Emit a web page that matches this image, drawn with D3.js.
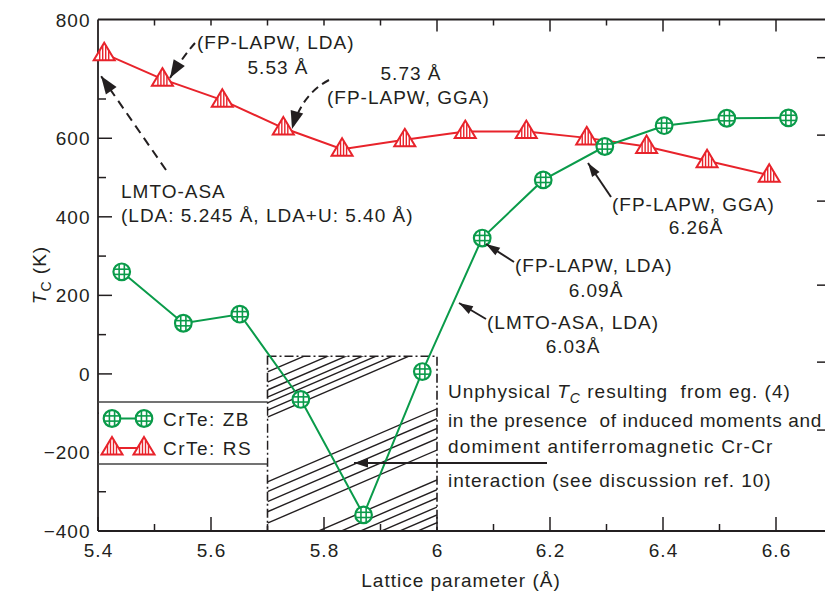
<!DOCTYPE html>
<html>
<head>
<meta charset="utf-8">
<script src="https://cdn.jsdelivr.net/npm/d3@7"></script>
<style>
  html, body { margin: 0; padding: 0; background: #fff; }
  svg text { font-family: "Liberation Sans", Arial, sans-serif; font-size: 19px; letter-spacing: 1px; fill: #231f20; }
</style>
</head>
<body>
<svg id="chart" width="825" height="596"></svg>
<script>
// ---------------- data ----------------
const zbLattice = [5.442, 5.551, 5.651, 5.759, 5.870, 5.974, 6.080, 6.188, 6.297, 6.402, 6.513, 6.622];
const zbTc      = [260, 129, 152, -65, -359, 6, 346, 494, 579, 632, 651, 652];
const rsLattice = [5.411, 5.514, 5.620, 5.728, 5.832, 5.943, 6.050, 6.158, 6.265, 6.371, 6.478, 6.588];
const rsTc      = [757, 725, 697, 626, 572, 596, 617, 617, 601, 579, 543, 506];
const xTickLabels = [5.4, 5.6, 5.8, 6.0, 6.2, 6.4, 6.6];
const xMinorTicks = [5.5, 5.7, 5.9, 6.1, 6.3, 6.5];
const yTickLabels = [-400, -200, 0, 200, 400, 600, 800];
const yMinorTicks = [-300, -100, 100, 300, 500, 700];
const topTicks = [5.5, 5.6, 5.7, 5.8, 5.9, 6.0, 6.1, 6.2, 6.3, 6.4, 6.5, 6.6];
const rightTicks = [752, 608, 440, 226, 30, -143];
const regionLattice = [5.7, 6.0];     // unphysical region
const regionTcTop = 45;
const hatchIntercepts = [5, -21, -41, -59, -74, -92, -110, -275, -300, -325, -351, -380, -456, -481, -502, -525, -545, -565];
const hatchSlope = 620; // K per Å
const legendLabels = ["CrTe: ZB", "CrTe: RS"];

// ---------------- setup ----------------
const GREEN = "#0a9b4a", RED = "#e8232b", INK = "#231f20";
const svg = d3.select("#chart");
const x = d3.scaleLinear().domain([5.4, 6.6]).range([98, 776]);
const y = d3.scaleLinear().domain([-400, 700, 800]).range([531, 99, 19.5]);
const pL = 98, pR = 825, pT = 19.5, pB = 531;

const defs = svg.append("defs");
defs.append("clipPath").attr("id", "hclip").append("rect")
  .attr("x", x(regionLattice[0])).attr("y", y(regionTcTop))
  .attr("width", x(regionLattice[1]) - x(regionLattice[0]))
  .attr("height", y(-400) - y(regionTcTop));
function mk(id, len, half) {
  defs.append("marker").attr("id", id)
    .attr("viewBox", `${-len - 2} ${-half - 2} ${len + 4} ${2 * half + 4}`)
    .attr("refX", 0).attr("refY", 0)
    .attr("markerUnits", "userSpaceOnUse")
    .attr("markerWidth", len + 4).attr("markerHeight", 2 * half + 4)
    .attr("orient", "auto")
    .append("path").attr("d", `M0,0 L${-len},${-half} L${-len},${half} Z`)
    .attr("fill", INK).attr("stroke", "none");
}
mk("headS", 14, 4.5);
mk("headB", 18, 6.5);

// ---------------- hatched region ----------------
const hatch = svg.append("g").attr("clip-path", "url(#hclip)");
hatch.selectAll("line").data(hatchIntercepts).join("line")
  .attr("x1", x(regionLattice[0])).attr("y1", d => y(d))
  .attr("x2", x(regionLattice[1])).attr("y2", d => y(d + hatchSlope * (regionLattice[1] - regionLattice[0])))
  .attr("stroke", INK).attr("stroke-width", 1.4);
svg.append("rect")
  .attr("x", x(regionLattice[0])).attr("y", y(regionTcTop))
  .attr("width", x(regionLattice[1]) - x(regionLattice[0]))
  .attr("height", y(-400) - y(regionTcTop))
  .attr("fill", "none").attr("stroke", INK).attr("stroke-width", 1.6)
  .attr("stroke-dasharray", "9,3,2,3");

// ---------------- frame & ticks ----------------
const frame = svg.append("g").attr("stroke", INK).attr("stroke-width", 1.8);
frame.append("line").attr("x1", pL).attr("x2", pL).attr("y1", pT).attr("y2", pB);
frame.append("line").attr("x1", pL).attr("x2", pR).attr("y1", pT).attr("y2", pT);
frame.append("line").attr("x1", pL).attr("x2", pR).attr("y1", pB).attr("y2", pB);

const tk = svg.append("g").attr("stroke", INK).attr("stroke-width", 1.5);
tk.selectAll(".bx").data(xTickLabels).join("line")
  .attr("x1", d => x(d)).attr("x2", d => x(d)).attr("y1", pB).attr("y2", pB - 14);
tk.selectAll(".bm").data(xMinorTicks).join("line")
  .attr("x1", d => x(d)).attr("x2", d => x(d)).attr("y1", pB).attr("y2", pB - 7);
tk.selectAll(".tt").data(topTicks).join("line")
  .attr("x1", d => x(d)).attr("x2", d => x(d)).attr("y1", pT)
  .attr("y2", d => pT + (d >= 5.99 && Math.round(d * 10) % 2 === 0 ? 12 : 6));
tk.selectAll(".ly").data(yTickLabels.filter(d => d < 800)).join("line")
  .attr("x1", pL).attr("x2", pL + 14).attr("y1", d => y(d)).attr("y2", d => y(d));
tk.selectAll(".lm").data(yMinorTicks).join("line")
  .attr("x1", pL).attr("x2", pL + 8).attr("y1", d => y(d)).attr("y2", d => y(d));
tk.selectAll(".rt").data(rightTicks).join("line")
  .attr("x1", pR - 8).attr("x2", pR).attr("y1", d => y(d)).attr("y2", d => y(d));

const fmtY = d => d < 0 ? "\u2212" + Math.abs(d) : String(d);
svg.selectAll(".ylab").data(yTickLabels).join("text")
  .attr("x", 90.5).attr("y", d => y(d) + 7).attr("text-anchor", "end").text(fmtY);
svg.selectAll(".xlab").data(xTickLabels).join("text")
  .attr("x", d => x(d) + 0.5).attr("y", 556.5).attr("text-anchor", "middle")
  .text(d => d === 6 ? "6" : d.toFixed(1));

svg.append("text").attr("x", 461).attr("y", 587).attr("text-anchor", "middle").text("Lattice parameter (Å)");
const yl = svg.append("text").attr("transform", "translate(46,275) rotate(-90)").attr("text-anchor", "middle");
yl.append("tspan").attr("font-style", "italic").text("T");
yl.append("tspan").style("font-size", "14px").attr("dy", 5).text("C");
yl.append("tspan").attr("dy", -5).text(" (K)");

// ---------------- markers ----------------
function circleMarker(g) {
  const r = 8.3, o = 2.6, c = Math.sqrt(r * r - o * o);
  g.append("circle").attr("r", r).attr("fill", "#fff").attr("stroke", GREEN).attr("stroke-width", 2.2);
  [-o, o].forEach(v => {
    g.append("line").attr("x1", v).attr("x2", v).attr("y1", -c).attr("y2", c).attr("stroke", GREEN).attr("stroke-width", 1.6);
    g.append("line").attr("y1", v).attr("y2", v).attr("x1", -c).attr("x2", c).attr("stroke", GREEN).attr("stroke-width", 1.6);
  });
}
function triMarker(g) {
  const h = 11, b = 6.5, w = 10.5;
  g.append("path").attr("d", `M0,${-h} L${w},${b} L${-w},${b} Z`)
    .attr("fill", "#fff").attr("stroke", RED).attr("stroke-width", 2).attr("stroke-linejoin", "miter");
  [-4.5, -1.5, 1.5, 4.5].forEach(v => {
    const yt = -h + (h + b) * Math.abs(v) / w;
    g.append("line").attr("x1", v).attr("x2", v).attr("y1", yt).attr("y2", b).attr("stroke", RED).attr("stroke-width", 1.4);
  });
}

const zb = zbLattice.map((v, i) => ({ x: v, y: zbTc[i] }));
const rs = rsLattice.map((v, i) => ({ x: v, y: rsTc[i] }));
const line = d3.line().x(d => x(d.x)).y(d => y(d.y));

svg.append("path").datum(rs).attr("d", line).attr("fill", "none").attr("stroke", RED).attr("stroke-width", 2);
svg.append("path").datum(zb).attr("d", line).attr("fill", "none").attr("stroke", GREEN).attr("stroke-width", 2);
svg.selectAll(".rsm").data(rs).join("g").attr("transform", d => `translate(${x(d.x)},${y(d.y)})`).each(function () { triMarker(d3.select(this)); });
svg.selectAll(".zbm").data(zb).join("g").attr("transform", d => `translate(${x(d.x)},${y(d.y)})`).each(function () { circleMarker(d3.select(this)); });

// ---------------- legend ----------------
const lg = svg.append("g");
lg.append("rect").attr("x", pL + 1).attr("y", 402).attr("width", x(regionLattice[0]) - pL - 2).attr("height", 62).attr("fill", "#fff");
lg.append("line").attr("x1", pL).attr("x2", x(regionLattice[0])).attr("y1", 402).attr("y2", 402).attr("stroke", "#444").attr("stroke-width", 1.5);
lg.append("line").attr("x1", pL).attr("x2", x(regionLattice[0])).attr("y1", 464).attr("y2", 464).attr("stroke", "#444").attr("stroke-width", 1.5);
const legendRows = [{ label: legendLabels[0], color: GREEN, fn: circleMarker, cy: 418.5 },
                    { label: legendLabels[1], color: RED, fn: triMarker, cy: 448 }];
legendRows.forEach(r => {
  lg.append("line").attr("x1", 112).attr("x2", 144).attr("y1", r.cy).attr("y2", r.cy).attr("stroke", r.color).attr("stroke-width", 2);
  [112, 144].forEach(px => r.fn(lg.append("g").attr("transform", `translate(${px},${r.cy})`)));
  lg.append("text").attr("x", 163).attr("y", r.cy + 7).style("letter-spacing", "1.5px").text(r.label);
});

// ---------------- annotations ----------------
const ann = svg.append("g");
function txt(xp, yp, s, anchor) { return ann.append("text").attr("x", xp).attr("y", yp).attr("text-anchor", anchor || "start").text(s); }
txt(197, 49, "(FP-LAPW, LDA)");
txt(278, 74, "5.53 Å", "middle");
txt(411, 80, "5.73 Å", "middle");
txt(327, 104, "(FP-LAPW, GGA)");
txt(121, 198, "LMTO-ASA");
txt(121, 222, "(LDA: 5.245 Å, LDA+U: 5.40 Å)");
txt(612, 210.5, "(FP-LAPW, GGA)");
txt(696, 234, "6.26Å", "middle");
txt(515, 272, "(FP-LAPW, LDA)");
txt(596, 297, "6.09Å", "middle");
txt(487, 329, "(LMTO-ASA, LDA)");
txt(573, 353, "6.03Å", "middle");

const u1 = ann.append("text").attr("x", 448).attr("y", 398).attr("xml:space", "preserve").style("letter-spacing", "1px");
u1.append("tspan").text("Unphysical ");
u1.append("tspan").attr("font-style", "italic").text("T");
u1.append("tspan").style("font-size", "14px").attr("dy", 5).attr("font-style", "italic").text("C");
u1.append("tspan").attr("dy", -5).text(" resulting  from eg. (4)");
txt(448, 427, "in the presence  of induced moments and").attr("xml:space", "preserve").style("letter-spacing", "0.65px");
txt(448, 453, "domiment antiferromagnetic Cr-Cr").style("letter-spacing", "1.2px");
txt(448, 487, "interaction (see discussion ref. 10)").style("letter-spacing", "0.95px");

const arrows = ann.append("g").attr("fill", "none").attr("stroke", INK).attr("stroke-width", 2);
arrows.append("path").attr("d", "M195,43 Q182,58 170,78").attr("stroke-dasharray", "8,5").attr("marker-end", "url(#headB)");
arrows.append("path").attr("d", "M329,80 Q302,94 292,129").attr("stroke-dasharray", "8,5").attr("marker-end", "url(#headB)");
arrows.append("path").attr("d", "M166,170 L101,76").attr("stroke-dasharray", "9,6").attr("marker-end", "url(#headB)");
arrows.append("path").attr("d", "M611,197 L588,163").attr("marker-end", "url(#headS)");
arrows.append("path").attr("d", "M514,262 L486,244").attr("marker-end", "url(#headS)");
arrows.append("path").attr("d", "M486,319 L459,303").attr("marker-end", "url(#headS)");
arrows.append("path").attr("d", "M547,463 L354,463").attr("marker-end", "url(#headS)");
</script>
</body>
</html>
